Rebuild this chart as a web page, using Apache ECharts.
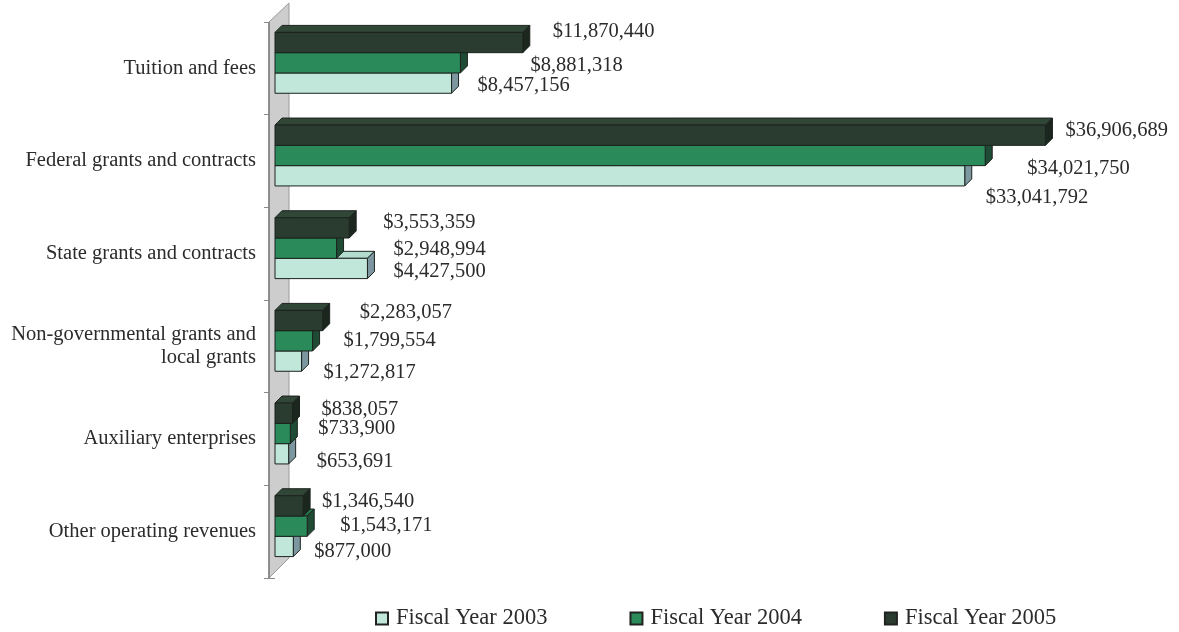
<!DOCTYPE html>
<html>
<head>
<meta charset="utf-8">
<script src="https://cdn.jsdelivr.net/npm/echarts@6/dist/echarts.min.js"></script>
<style>
  html, body { margin: 0; padding: 0; background: #ffffff; }
  #chart { width: 1179px; height: 632px; }
</style>
</head>
<body>
<div id="chart"></div>
<script>
// Operating revenues by source, three fiscal years
const categories = [
  'Tuition and fees',
  'Federal grants and contracts',
  'State grants and contracts',
  'Non-governmental grants and\nlocal grants',
  'Auxiliary enterprises',
  'Other operating revenues'
];
const seriesNames = ['Fiscal Year 2003', 'Fiscal Year 2004', 'Fiscal Year 2005'];
const fy2003 = [8457156, 33041792, 4427500, 1272817, 653691, 877000];
const fy2004 = [8881318, 34021750, 2948994, 1799554, 733900, 1543171];
const fy2005 = [11870440, 36906689, 3553359, 2283057, 838057, 1346540];

// Label nudges (px) from each bar's end / centre line
const labelNudge2003 = [[26, 2], [21, 22], [26, 3], [22, 11], [28, 8], [21, 5]];
const labelNudge2004 = [[70, 3], [42, 13], [57, 1], [31, 0], [28, -5], [33, -1]];
const labelNudge2005 = [[30, -11], [20, -5], [34, -5], [37, -8], [29, -4], [19, -4]];

// Face colours: front, top, side
const palette = [
  { front: '#c1e6da', top: '#b3dbce', side: '#7c97a0' },
  { front: '#2b8a5a', top: '#24744b', side: '#1f4a33' },
  { front: '#2a3c2f', top: '#304636', side: '#1b271e' }
];

const FONT = '"Liberation Serif", "Times New Roman", serif';
const TEXT = '#2b2b2b';
const DEPTH = 7;          // oblique depth of each bar
const BAR_RATIO = 0.219;  // bar thickness as share of a category band
const LIFT = 5.5;         // bars sit slightly back into the floor
const WALL_SHIFT = 6;     // floor front edge lies left of the zero line
const WALL_DEPTH = 20;

const fmt = v => '$' + v.toLocaleString('en-US');

function barRenderer(idx, values, nudges) {
  return function (params, api) {
    const cat = api.value(0);
    const val = api.value(1);
    const base = api.coord([0, cat]);
    const end = api.coord([val, cat]);
    const band = api.size([0, 1])[1];
    const h = band * BAR_RATIO;
    const cy = base[1] - LIFT + (1 - idx) * h;
    const x0 = base[0], x1 = end[0];
    const y0 = cy - h / 2, y1 = cy + h / 2;
    const c = palette[idx];
    const edge = { stroke: '#1c231e', lineWidth: 1 };
    const nd = nudges[params.dataIndex];
    return {
      type: 'group',
      children: [
        {
          type: 'polygon',
          shape: { points: [[x0, y0], [x1, y0], [x1 + DEPTH, y0 - DEPTH], [x0 + DEPTH, y0 - DEPTH]] },
          style: Object.assign({ fill: c.top }, edge)
        },
        {
          type: 'polygon',
          shape: { points: [[x1, y0], [x1, y1], [x1 + DEPTH, y1 - DEPTH], [x1 + DEPTH, y0 - DEPTH]] },
          style: Object.assign({ fill: c.side }, edge)
        },
        {
          type: 'rect',
          shape: { x: x0, y: y0, width: x1 - x0, height: h },
          style: Object.assign({ fill: c.front }, edge)
        },
        {
          type: 'text',
          x: x1 + nd[0],
          y: cy + nd[1],
          z2: 50,
          style: {
            text: fmt(val),
            fill: TEXT,
            font: '20.5px ' + FONT,
            align: 'left',
            verticalAlign: 'middle'
          }
        }
      ]
    };
  };
}

function wallRenderer(params, api) {
  const top = api.coord([0, 0]);
  const bottom = api.coord([0, categories.length - 1]);
  const band = api.size([0, 1])[1];
  const x = top[0] - WALL_SHIFT;
  const yTop = top[1] - band / 2;
  const yBot = bottom[1] + band / 2;
  return {
    type: 'group',
    children: [
      {
        type: 'polygon',
        shape: { points: [[x, yTop], [x + WALL_DEPTH, yTop - WALL_DEPTH + 1], [x + WALL_DEPTH, yBot - WALL_DEPTH], [x, yBot]] },
        style: { fill: '#cdcdcd', stroke: '#9a9a9a', lineWidth: 1 }
      },
      {
        type: 'line',
        shape: { x1: x, y1: yTop, x2: x, y2: yBot },
        style: { stroke: '#7d7d7d', lineWidth: 1.5 }
      }
    ]
  };
}

const toData = arr => arr.map((v, i) => [i, v]);

const chart = echarts.init(document.getElementById('chart'), null, { renderer: 'canvas' });
chart.setOption({
  backgroundColor: '#ffffff',
  animation: false,
  grid: { left: 275, right: 69, top: 22, bottom: 54 },
  xAxis: {
    type: 'value',
    min: 0,
    max: 40000000,
    show: false
  },
  yAxis: {
    type: 'category',
    data: categories,
    inverse: true,
    offset: WALL_SHIFT,
    axisLine: { show: false },
    axisTick: { show: true, inside: false, length: 11, lineStyle: { color: '#8a8a8a', width: 1 } },
    axisLabel: {
      margin: 13,
      color: TEXT,
      fontFamily: FONT,
      fontSize: 20.5,
      lineHeight: 23,
      align: 'right'
    },
    splitLine: { show: false }
  },
  legend: {
    data: seriesNames,
    left: 370,
    top: 602,
    icon: 'rect',
    itemWidth: 12,
    itemHeight: 12,
    itemGap: 82,
    textStyle: { fontFamily: FONT, fontSize: 22.5, color: TEXT, padding: [0, 0, 0, 3] },
    selectedMode: false
  },
  series: [
    {
      type: 'custom',
      name: 'floor',
      z: 1,
      silent: true,
      renderItem: wallRenderer,
      data: [[0, 0]],
      encode: { x: 1, y: 0 }
    },
    {
      type: 'custom',
      name: seriesNames[0],
      z: 2,
      itemStyle: { color: palette[0].front, borderColor: '#222', borderWidth: 1 },
      renderItem: barRenderer(0, fy2003, labelNudge2003),
      data: toData(fy2003),
      encode: { x: 1, y: 0 }
    },
    {
      type: 'custom',
      name: seriesNames[1],
      z: 3,
      itemStyle: { color: palette[1].front, borderColor: '#222', borderWidth: 1 },
      renderItem: barRenderer(1, fy2004, labelNudge2004),
      data: toData(fy2004),
      encode: { x: 1, y: 0 }
    },
    {
      type: 'custom',
      name: seriesNames[2],
      z: 4,
      itemStyle: { color: palette[2].front, borderColor: '#222', borderWidth: 1 },
      renderItem: barRenderer(2, fy2005, labelNudge2005),
      data: toData(fy2005),
      encode: { x: 1, y: 0 }
    }
  ]
});
</script>
</body>
</html>
